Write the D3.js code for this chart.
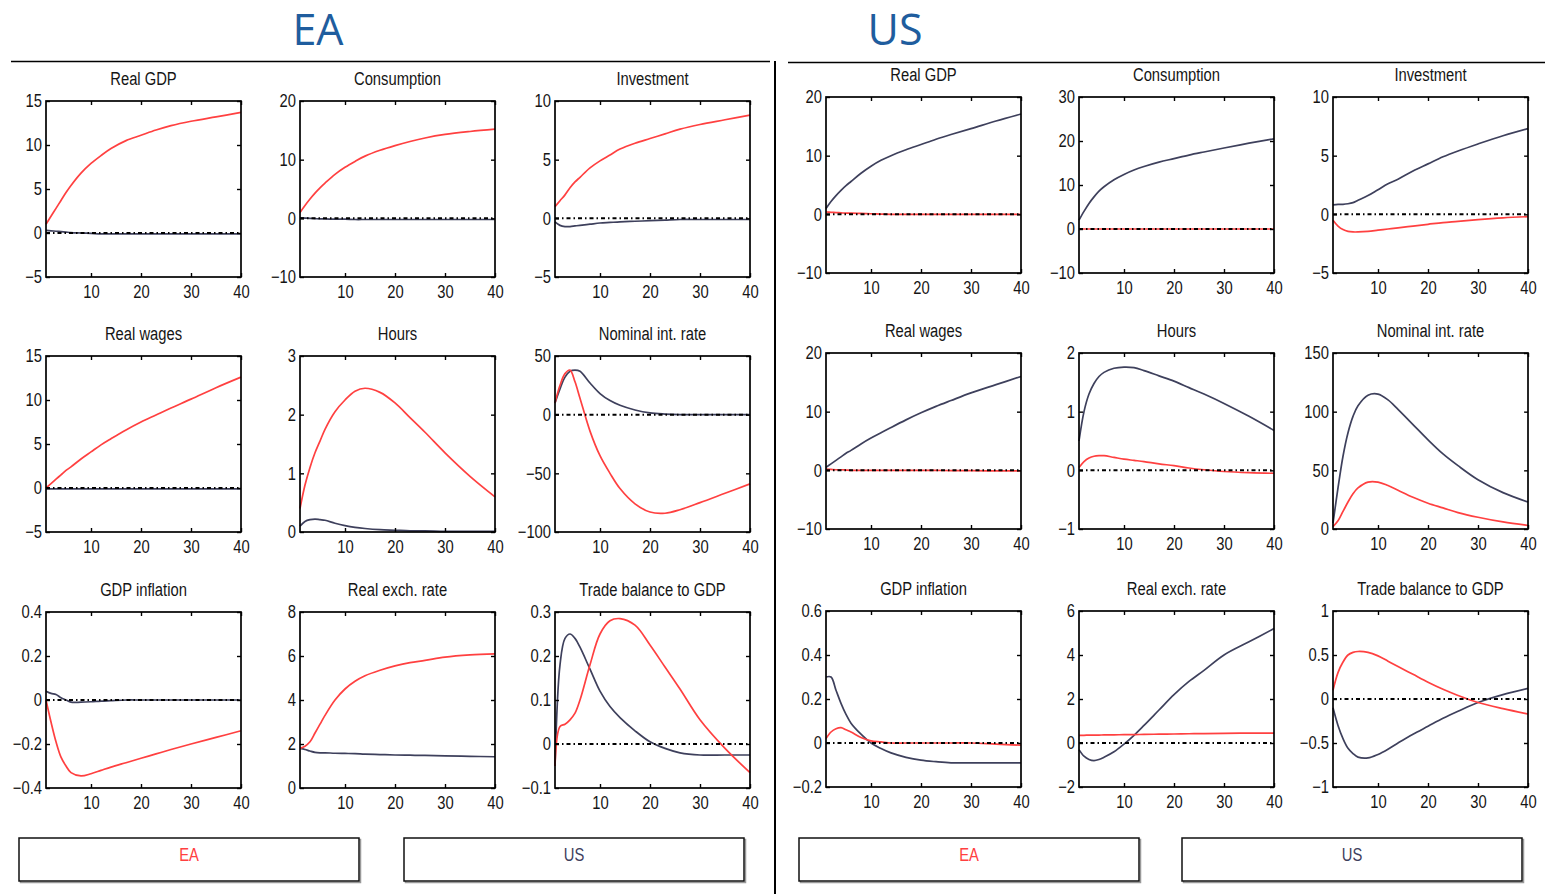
<!DOCTYPE html>
<html>
<head>
<meta charset="utf-8">
<script src="https://cdn.jsdelivr.net/npm/d3@7"></script>
<style>
  body { margin: 0; background: #fff; }
  .tick text { font-family: "Liberation Sans", Arial, sans-serif; font-size: 18px; fill: #151515; }
  .ptitle { font-family: "Liberation Sans", Arial, sans-serif; font-size: 18px; fill: #151515; }
</style>
</head>
<body>
<script>
const periods = [1, 2, 3, 4, 5, 6, 8, 10, 12, 14, 17, 20, 23, 26, 30, 35, 40];
const xTicks = [10, 20, 30, 40];

const panelTitles = ["Real GDP", "Consumption", "Investment",
                     "Real wages", "Hours", "Nominal int. rate",
                     "GDP inflation", "Real exch. rate", "Trade balance to GDP"];

// y axis ranges and ticks, EA shock block (left)
const yDomainsEA = [[-5, 15], [-10, 20], [-5, 10], [-5, 15], [0, 3], [-100, 50], [-0.4, 0.4], [0, 8], [-0.1, 0.3]];
const yTicksEA = [[-5, 0, 5, 10, 15], [-10, 0, 10, 20], [-5, 0, 5, 10], [-5, 0, 5, 10, 15], [0, 1, 2, 3],
                  [-100, -50, 0, 50], [-0.4, -0.2, 0, 0.2, 0.4], [0, 2, 4, 6, 8], [-0.1, 0, 0.1, 0.2, 0.3]];
// y axis ranges and ticks, US shock block (right)
const yDomainsUS = [[-10, 20], [-10, 30], [-5, 10], [-10, 20], [-1, 2], [0, 150], [-0.2, 0.6], [-2, 6], [-1, 1]];
const yTicksUS = [[-10, 0, 10, 20], [-10, 0, 10, 20, 30], [-5, 0, 5, 10], [-10, 0, 10, 20], [-1, 0, 1, 2],
                  [0, 50, 100, 150], [-0.2, 0, 0.2, 0.4, 0.6], [-2, 0, 2, 4, 6], [-1, -0.5, 0, 0.5, 1]];

// EA block: EA response (red)
const eaBlockEA = [
  [1.0, 1.9, 2.8, 3.7, 4.6, 5.4, 6.8, 7.9, 8.8, 9.6, 10.5, 11.1, 11.7, 12.2, 12.7, 13.2, 13.7],
  [1.0, 2.2, 3.3, 4.3, 5.2, 6.0, 7.5, 8.7, 9.7, 10.6, 11.6, 12.4, 13.1, 13.7, 14.3, 14.8, 15.2],
  [1.0, 1.5, 2.0, 2.6, 3.1, 3.5, 4.3, 4.9, 5.4, 5.9, 6.4, 6.8, 7.2, 7.6, 8.0, 8.4, 8.8],
  [0.0, 0.5, 1.0, 1.5, 2.0, 2.4, 3.3, 4.1, 4.9, 5.6, 6.6, 7.5, 8.3, 9.1, 10.1, 11.4, 12.6],
  [0.4, 0.8, 1.1, 1.35, 1.55, 1.75, 2.05, 2.25, 2.4, 2.45, 2.38, 2.2, 1.95, 1.7, 1.35, 0.95, 0.6],
  [10, 25, 35, 38, 28, 14, -14, -35, -50, -63, -76, -83, -84, -81, -75, -67, -59],
  [0, -0.1, -0.19, -0.26, -0.3, -0.33, -0.345, -0.335, -0.32, -0.305, -0.285, -0.265, -0.245, -0.225, -0.2, -0.17, -0.14],
  [1.8, 1.9, 2.1, 2.5, 2.9, 3.3, 4.0, 4.5, 4.85, 5.1, 5.35, 5.55, 5.7, 5.8, 5.95, 6.05, 6.1],
  [-0.05, 0.04, 0.045, 0.055, 0.07, 0.1, 0.18, 0.25, 0.28, 0.285, 0.27, 0.225, 0.175, 0.125, 0.055, -0.01, -0.065]
];
// EA block: US response (navy)
const eaBlockUS = [
  [0.3, 0.25, 0.2, 0.15, 0.1, 0.05, 0, -0.05, -0.1, -0.1, -0.1, -0.1, -0.1, -0.1, -0.1, -0.1, -0.1],
  [0.1, 0.05, 0, -0.05, -0.1, -0.1, -0.15, -0.15, -0.2, -0.2, -0.2, -0.2, -0.2, -0.2, -0.2, -0.2, -0.2],
  [-0.3, -0.6, -0.7, -0.7, -0.65, -0.6, -0.5, -0.4, -0.35, -0.3, -0.25, -0.2, -0.15, -0.1, -0.1, -0.1, -0.1],
  [-0.1, -0.1, -0.1, -0.1, -0.1, -0.1, -0.1, -0.1, -0.1, -0.1, -0.1, -0.1, -0.1, -0.1, -0.1, -0.1, -0.1],
  [0.1, 0.18, 0.21, 0.22, 0.21, 0.2, 0.15, 0.11, 0.08, 0.06, 0.04, 0.03, 0.02, 0.02, 0.01, 0.01, 0.01],
  [10, 22, 32, 37, 38, 37, 27, 18, 12, 8, 4, 1.5, 0.5, 0, 0, 0, 0],
  [0.04, 0.03, 0.025, 0.01, 0, -0.01, -0.01, -0.008, -0.005, -0.003, 0, 0, 0, 0, 0, 0, 0],
  [1.8, 1.75, 1.68, 1.62, 1.6, 1.6, 1.58, 1.57, 1.56, 1.54, 1.52, 1.5, 1.49, 1.48, 1.46, 1.44, 1.42],
  [-0.05, 0.18, 0.24, 0.25, 0.24, 0.22, 0.17, 0.12, 0.085, 0.06, 0.03, 0.005, -0.01, -0.02, -0.025, -0.025, -0.025]
];
// US block: EA response (red)
const usBlockEA = [
  [0.4, 0.35, 0.3, 0.25, 0.2, 0.2, 0.15, 0.1, 0.05, 0, 0, 0, 0, 0, 0, 0, 0],
  [0, 0, 0, 0, 0, 0, 0, 0, 0, 0, 0, 0, 0, 0, 0, 0, 0],
  [-0.5, -1.0, -1.3, -1.45, -1.5, -1.5, -1.45, -1.35, -1.25, -1.15, -1.0, -0.85, -0.7, -0.6, -0.45, -0.3, -0.2],
  [0.2, 0.15, 0.1, 0.1, 0.05, 0, 0, 0, 0, 0, 0, 0, 0, -0.05, -0.05, -0.1, -0.1],
  [0.05, 0.15, 0.21, 0.24, 0.25, 0.25, 0.22, 0.19, 0.17, 0.15, 0.11, 0.08, 0.04, 0.01, -0.02, -0.04, -0.05],
  [2, 7, 15, 23, 30, 35, 40, 40, 37, 33, 27, 22, 18, 14, 10, 6, 3],
  [0.02, 0.05, 0.065, 0.07, 0.06, 0.05, 0.025, 0.01, 0.005, 0, 0, 0, 0, 0, 0, -0.005, -0.01],
  [0.35, 0.35, 0.36, 0.36, 0.36, 0.37, 0.37, 0.38, 0.38, 0.39, 0.4, 0.41, 0.42, 0.43, 0.44, 0.45, 0.45],
  [0.1, 0.3, 0.42, 0.5, 0.53, 0.54, 0.53, 0.49, 0.43, 0.37, 0.28, 0.19, 0.11, 0.04, -0.04, -0.11, -0.17]
];
// US block: US response (navy)
const usBlockUS = [
  [1.0, 2.2, 3.2, 4.1, 4.9, 5.6, 7.0, 8.2, 9.2, 10.0, 11.0, 11.9, 12.8, 13.6, 14.6, 15.9, 17.1],
  [2, 4, 5.8, 7.3, 8.6, 9.6, 11.2, 12.4, 13.4, 14.2, 15.2, 16.0, 16.8, 17.5, 18.4, 19.5, 20.5],
  [0.8, 0.85, 0.85, 0.9, 1.0, 1.2, 1.6, 2.1, 2.6, 3.0, 3.7, 4.3, 4.9, 5.4, 6.0, 6.7, 7.3],
  [0.5, 1.1, 1.7, 2.3, 2.9, 3.4, 4.5, 5.5, 6.4, 7.3, 8.6, 9.8, 10.9, 11.9, 13.2, 14.6, 16.0],
  [0.5, 1.0, 1.3, 1.48, 1.6, 1.67, 1.74, 1.76, 1.75, 1.7, 1.61, 1.52, 1.41, 1.3, 1.14, 0.92, 0.68],
  [5, 35, 62, 82, 96, 105, 114, 115, 110, 102, 89, 76, 64, 54, 42, 31, 23],
  [0.3, 0.3, 0.24, 0.18, 0.13, 0.09, 0.04, 0, -0.025, -0.045, -0.065, -0.078, -0.085, -0.09, -0.09, -0.09, -0.09],
  [-0.3, -0.6, -0.75, -0.8, -0.75, -0.65, -0.4, -0.05, 0.35, 0.8, 1.5, 2.2, 2.8, 3.3, 4.0, 4.6, 5.2],
  [-0.1, -0.3, -0.45, -0.56, -0.62, -0.66, -0.67, -0.63, -0.57, -0.5, -0.4, -0.31, -0.22, -0.14, -0.04, 0.05, 0.12]
];

const eaColor = "#ff4040";
const usColor = "#3e405c";
const W = 195, H = 176;

const svg = d3.select("body").append("svg")
    .attr("width", 1545)
    .attr("height", 894);

// squeeze text horizontally, the original uses a narrow face
function condense(sel, k) {
    sel.each(function() {
        const w = this.getComputedTextLength();
        if (w > 0) d3.select(this).attr("textLength", w * k).attr("lengthAdjust", "spacingAndGlyphs");
    });
}

// block headers and separators
svg.append("text").attr("x", 318).attr("y", 45).attr("text-anchor", "middle")
    .style("font-family", "'Open Sans', sans-serif").style("font-size", "43px")
    .attr("fill", "#1f5d9e").text("EA");
svg.append("text").attr("x", 895).attr("y", 45).attr("text-anchor", "middle")
    .style("font-family", "'Open Sans', sans-serif").style("font-size", "43px")
    .attr("fill", "#1f5d9e").text("US");
svg.append("line").attr("x1", 11).attr("x2", 770).attr("y1", 61.5).attr("y2", 61.5)
    .attr("stroke", "#000").attr("stroke-width", 1.5);
svg.append("line").attr("x1", 788).attr("x2", 1545).attr("y1", 62.5).attr("y2", 62.5)
    .attr("stroke", "#000").attr("stroke-width", 1.5);
svg.append("line").attr("x1", 775).attr("x2", 775).attr("y1", 61).attr("y2", 894)
    .attr("stroke", "#000").attr("stroke-width", 2);

function drawPanel(x0, y0, title, yDomain, yTicks, red, navy) {
    const g = svg.append("g");
    const x = d3.scaleLinear().domain([1, 40]).range([x0, x0 + W]);
    const y = d3.scaleLinear().domain(yDomain).range([y0 + H, y0]);

    const line = d3.line()
        .x((d, i) => x(periods[i]))
        .y(d => y(d))
        .curve(d3.curveCatmullRom.alpha(0.5));

    g.append("path").datum(navy)
        .attr("fill", "none").attr("stroke", usColor).attr("stroke-width", 1.7)
        .attr("d", line);
    g.append("path").datum(red)
        .attr("fill", "none").attr("stroke", eaColor).attr("stroke-width", 1.7)
        .attr("d", line);

    // zero reference line
    if (yDomain[0] < 0 && yDomain[1] > 0) {
        g.append("line")
            .attr("x1", x(1)).attr("x2", x(40))
            .attr("y1", y(0)).attr("y2", y(0))
            .attr("stroke", "#000").attr("stroke-width", 2)
            .attr("stroke-dasharray", "4,3,1.5,3");
    }

    g.append("rect")
        .attr("x", x0).attr("y", y0).attr("width", W).attr("height", H)
        .attr("fill", "none").attr("stroke", "#000").attr("stroke-width", 1.7);

    const fmt = d3.format("");
    g.append("g").attr("transform", "translate(0," + (y0 + H) + ")")
        .call(d3.axisBottom(x).tickValues(xTicks).tickSizeInner(-4).tickSizeOuter(0).tickPadding(8));
    g.append("g").attr("transform", "translate(0," + y0 + ")")
        .call(d3.axisTop(x).tickValues(xTicks).tickSizeInner(-4).tickSizeOuter(0).tickFormat(""));
    g.append("g").attr("transform", "translate(" + x0 + ",0)")
        .call(d3.axisLeft(y).tickValues(yTicks).tickSizeInner(-4).tickSizeOuter(0).tickPadding(4)
            .tickFormat(d => fmt(d).replace("-", "\u2212")));
    g.append("g").attr("transform", "translate(" + (x0 + W) + ",0)")
        .call(d3.axisRight(y).tickValues(yTicks).tickSizeInner(-4).tickSizeOuter(0).tickFormat(""));

    g.selectAll(".domain").remove();
    g.selectAll(".tick line").attr("stroke", "#000").attr("stroke-width", 1.4);
    condense(g.selectAll(".tick text"), 0.82);

    const t = g.append("text").attr("class", "ptitle")
        .attr("x", x0 + W / 2).attr("y", y0 - 16)
        .attr("text-anchor", "middle").text(title);
    condense(t, 0.82);
}

const colsEA = [46, 300, 555], rowsEA = [101, 356, 612];
const colsUS = [826, 1079, 1333], rowsUS = [97, 353, 611];

panelTitles.forEach(function(t, i) {
    const r = Math.floor(i / 3), c = i % 3;
    drawPanel(colsEA[c], rowsEA[r], t, yDomainsEA[i], yTicksEA[i], eaBlockEA[i], eaBlockUS[i]);
    drawPanel(colsUS[c], rowsUS[r], t, yDomainsUS[i], yTicksUS[i], usBlockEA[i], usBlockUS[i]);
});

// legend boxes
const legendBoxes = [
    {x: 19, label: "EA", color: eaColor}, {x: 404, label: "US", color: usColor},
    {x: 799, label: "EA", color: eaColor}, {x: 1182, label: "US", color: usColor}
];
legendBoxes.forEach(function(b) {
    svg.append("rect").attr("x", b.x + 1.5).attr("y", 839.5).attr("width", 340).attr("height", 43)
        .attr("fill", "none").attr("stroke", "#999").attr("stroke-width", 1.5);
    svg.append("rect").attr("x", b.x).attr("y", 838).attr("width", 340).attr("height", 43)
        .attr("fill", "#fff").attr("stroke", "#111").attr("stroke-width", 1.5);
    const t = svg.append("text").attr("class", "ptitle")
        .attr("x", b.x + 170).attr("y", 861).attr("text-anchor", "middle")
        .style("fill", b.color).text(b.label);
    condense(t, 0.82);
});
</script>
</body>
</html>
